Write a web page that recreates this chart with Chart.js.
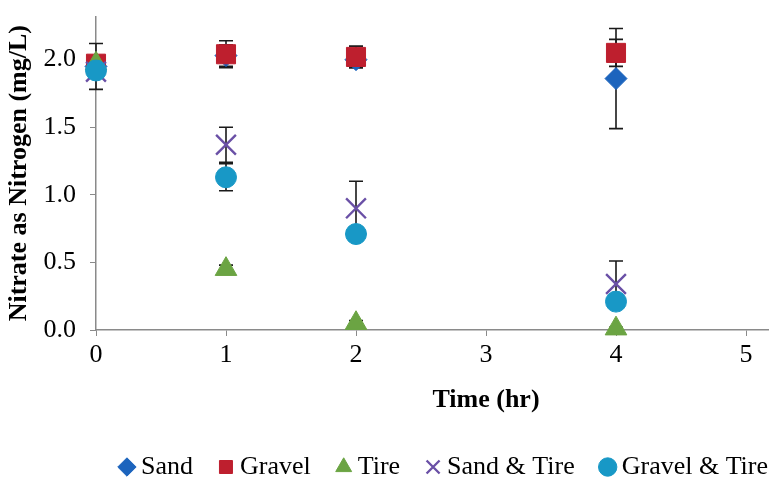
<!DOCTYPE html>
<html>
<head>
<meta charset="utf-8">
<script src="https://cdn.jsdelivr.net/npm/chart.js@4/dist/chart.umd.min.js"></script>
<style>
  html, body { margin: 0; padding: 0; background: #fff; overflow: hidden; width: 769px; height: 478px; }
  #wrap { width: 905px; height: 494px; }
</style>
</head>
<body>
<div id="wrap"><canvas id="c" width="905" height="494"></canvas></div>
<script>
// ---- data ----
const times = [0, 1, 2, 4];
const seriesNames = ['Sand', 'Gravel', 'Tire', 'Sand & Tire', 'Gravel & Tire'];
const sand        = [1.95, 2.03, 2.00, 1.86];
const sandErr     = [0.17, 0.08, 0.06, 0.37];
const gravel      = [1.97, 2.04, 2.02, 2.05];
const gravelErr   = [0.05, 0.10, 0.08, 0.10];
const tire        = [1.97, 0.45, 0.05, 0.01];
const tireErr     = [0.03, 0.03, 0.02, 0.01];
const sandTire    = [1.91, 1.37, 0.90, 0.34];
const sandTireErr = [0.04, 0.13, 0.20, 0.17];
const gravTire    = [1.92, 1.13, 0.71, 0.21];
const gravTireErr = [0.03, 0.10, 0.05, 0.03];
const yTickValues = [0, 0.5, 1.0, 1.5, 2.0];
const xTickValues = [0, 1, 2, 3, 4, 5];

const serif = "'Liberation Serif', 'Times New Roman', serif";
Chart.defaults.font.family = serif;
Chart.defaults.font.size = 26;
Chart.defaults.color = '#000';

function pts(vals) { return vals.map((v, i) => ({ x: times[i], y: v })); }

const errorBars = {
  id: 'errorBars',
  beforeDatasetsDraw(chart) {
    const { ctx, scales: { x, y } } = chart;
    ctx.save();
    ctx.strokeStyle = '#1a1a1a';
    ctx.lineWidth = 1.6;
    chart.data.datasets.forEach(ds => {
      ds.data.forEach((p, j) => {
        const e = ds.errors[j];
        if (!e) return;
        const px = x.getPixelForValue(p.x);
        const yt = y.getPixelForValue(p.y + e);
        const yb = y.getPixelForValue(p.y - e);
        ctx.beginPath();
        ctx.moveTo(px, yt); ctx.lineTo(px, yb);
        ctx.moveTo(px - 7, yt); ctx.lineTo(px + 7, yt);
        ctx.moveTo(px - 7, yb); ctx.lineTo(px + 7, yb);
        ctx.stroke();
      });
    });
    ctx.restore();
  }
};

// nudge the legend block to sit where the reference places it
const legendNudge = {
  id: 'legendNudge',
  afterLayout(chart) {
    const lg = chart.legend;
    if (!lg) return;
    lg.left += 9; lg.right += 9;
    lg.top -= 4; lg.bottom -= 4;
  }
};

const ds = (label, vals, errs, color, style, radius, order, bw) => ({
  label, data: pts(vals), errors: errs,
  pointStyle: style, pointRadius: radius, pointHoverRadius: radius,
  backgroundColor: color, borderColor: color, borderWidth: bw || 1,
  showLine: false, order, clip: false
});

new Chart(document.getElementById('c'), {
  type: 'scatter',
  data: {
    datasets: [
      ds(seriesNames[0], sand, sandErr, '#1C64BD', 'rectRot', 11, 5),
      ds(seriesNames[1], gravel, gravelErr, '#BE1F2E', 'rect', 13.5, 4),
      ds(seriesNames[2], tire, tireErr, '#6BA443', 'triangle', 12.5, 3),
      ds(seriesNames[3], sandTire, sandTireErr, '#6A50A6', 'crossRot', 14, 2, 2.4),
      ds(seriesNames[4], gravTire, gravTireErr, '#1898C6', 'circle', 10.5, 1)
    ]
  },
  options: {
    responsive: false,
    animation: false,
    devicePixelRatio: 1,
    layout: { padding: { top: 13, right: 29, left: 0, bottom: 0 } },
    plugins: {
      tooltip: { enabled: false },
      legend: {
        position: 'bottom',
        labels: {
          usePointStyle: true,
          boxWidth: 2,
          boxHeight: 13,
          padding: 32,
          color: '#000',
          font: { family: serif, size: 26 },
          sort: (a, b) => a.datasetIndex - b.datasetIndex
        }
      }
    },
    scales: {
      x: {
        type: 'linear',
        min: 0, max: 6,
        afterFit: s => { s.height = 96; s.paddingLeft = 0; s.paddingRight = 0; },
        afterBuildTicks: s => { s.ticks = xTickValues.concat([6]).map(v => ({ value: v })); },
        ticks: {
          color: '#000', padding: 4,
          font: { family: serif, size: 26 },
          callback: v => (v === 6 ? '' : String(v))
        },
        grid: { drawOnChartArea: false, drawTicks: true, tickLength: 6, color: '#8a8a8a' },
        border: { display: true, color: '#8a8a8a', width: 1.5 },
        title: {
          display: true, text: 'Time (hr)', color: '#000',
          font: { family: serif, size: 26, weight: 'bold' },
          padding: { top: 13, bottom: 10.4 }
        }
      },
      y: {
        min: 0, max: 2.32,
        afterFit: s => { s.width = 96; s.paddingTop = 0; s.paddingBottom = 0; },
        afterBuildTicks: s => { s.ticks = yTickValues.map(v => ({ value: v })); },
        ticks: {
          color: '#000', padding: 14,
          font: { family: serif, size: 26 },
          callback: v => Number(v).toFixed(1)
        },
        grid: { drawOnChartArea: false, drawTicks: true, tickLength: 6, color: '#8a8a8a' },
        border: { display: true, color: '#8a8a8a', width: 1.5 },
        title: {
          display: true, text: 'Nitrate as Nitrogen (mg/L)', color: '#000',
          font: { family: serif, size: 26, weight: 'bold' },
          padding: { top: 4, bottom: 8 }
        }
      }
    }
  },
  plugins: [errorBars, legendNudge]
});
</script>
</body>
</html>
